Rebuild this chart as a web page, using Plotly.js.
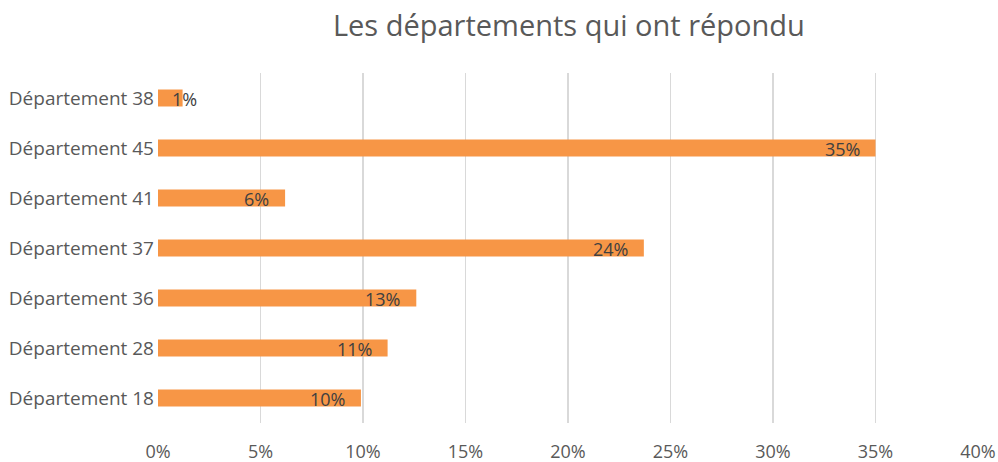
<!DOCTYPE html>
<html>
<head>
<meta charset="utf-8">
<script src="https://cdn.plot.ly/plotly-3.0.1.min.js"></script>
<style>html,body{margin:0;padding:0;background:#fff;}#chart{width:998px;height:462px;}</style>
</head>
<body>
<div id="chart"></div>
<script>
const categories = ["Département 18", "Département 28", "Département 36", "Département 37", "Département 41", "Département 45", "Département 38"];
const values = [9.9, 11.2, 12.6, 23.7, 6.2, 35.0, 1.2];
const xTickVals = [0, 5, 10, 15, 20, 25, 30, 35, 40];
const xTickText = ["0%", "5%", "10%", "15%", "20%", "25%", "30%", "35%", "40%"];
const titleText = "Les départements qui ont répondu";

const FONT = "Open Sans, sans-serif";

const annotations = values.map((v, i) => ({
  x: v, y: categories[i], xref: "x", yref: "y",
  text: Math.round(v) + "%",
  showarrow: false,
  xanchor: v < 3 ? "center" : "right",
  xshift: v < 3 ? 2 : -14,
  yshift: -1,
  font: {family: FONT, size: 18, color: "#404040"}
}));

const trace = {
  type: "bar", orientation: "h",
  x: values, y: categories,
  marker: {color: "#F79646"},
  hoverinfo: "none"
};

const layout = {
  width: 998, height: 462,
  margin: {l: 158, r: 20, t: 73, b: 39},
  paper_bgcolor: "#ffffff", plot_bgcolor: "#ffffff",
  bargap: 0.66,
  showlegend: false,
  title: {text: titleText, x: 0.57, xanchor: "center", y: 0.945, yanchor: "middle",
          font: {family: FONT, size: 29, color: "#595959"}},
  xaxis: {range: [0, 40], tickvals: xTickVals, ticktext: xTickText,
          showgrid: true, gridcolor: "#D9D9D9", gridwidth: 1.5, zeroline: false,
          showline: false, ticks: "", ticklabelstandoff: 16,
          tickfont: {family: FONT, size: 18, color: "#595959"}, fixedrange: true},
  yaxis: {categoryorder: "array", categoryarray: categories, showgrid: false,
          zeroline: false, showline: false, ticks: "", ticklabelstandoff: 3,
          tickfont: {family: FONT, size: 19, color: "#595959"}, fixedrange: true},
  annotations: annotations
};

Plotly.newPlot("chart", [trace], layout, {displayModeBar: false, staticPlot: true});
</script>
</body>
</html>
